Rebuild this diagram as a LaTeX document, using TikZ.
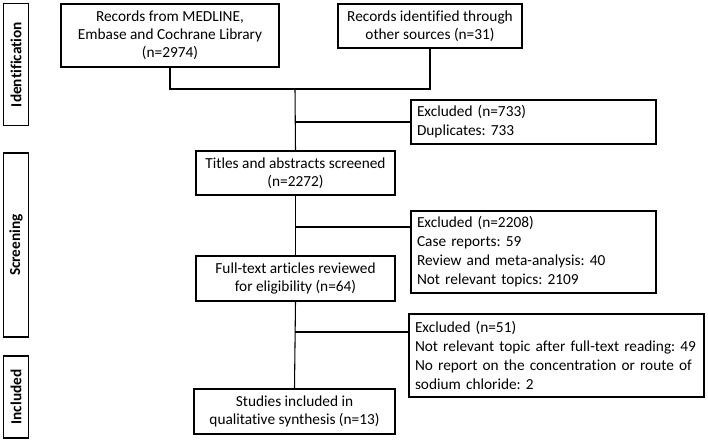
\documentclass[tikz,border=0pt]{standalone}
\usepackage{fontspec}
\setmainfont{Carlito}[Ligatures=CommonOff]
\frenchspacing
\begin{document}
\begin{tikzpicture}[x=0.75pt,y=-0.75pt,
  every node/.style={font=\fontsize{11.5}{13.6}\selectfont},
  box/.style={draw,line width=0.8pt,align=center,inner sep=2pt},
  exbox/.style={draw,line width=0.8pt,align=left,inner xsep=4.5pt,inner ysep=2pt,font=\fontsize{11.5}{14.2}\selectfont},
  side/.style={draw,line width=0.8pt,rotate=90,inner sep=0pt,minimum height=18.75pt,font=\bfseries\fontsize{11.5}{13}\selectfont},
  conn/.style={line width=0.8pt}]
\useasboundingbox (0,0) rectangle (708,443);
% side labels
\node[side,minimum width=91.5pt] (sid) at (16,64.5) {Identification};
\node[side,minimum width=138pt] (sscr) at (16,245) {Screening};
\node[side,minimum width=61.5pt] (sinc) at (16,397) {Included};
% main boxes
\node[box,minimum width=163.5pt,minimum height=47.25pt] (b1) at (170,35.5) {Records from MEDLINE,\\Embase and Cochrane Library\\(n=2974)};
\node[box,minimum width=138pt,minimum height=33pt] (b2) at (430,26) {Records identified through\\other sources (n=31)};
\node[box,minimum width=149.25pt,minimum height=33pt] (b3) at (295.5,173) {Titles and abstracts screened\\(n=2272)};
\node[box,minimum width=149.25pt,minimum height=33.75pt] (b4) at (295.5,278.5) {Full-text articles reviewed\\for eligibility (n=64)};
\node[box,minimum width=150.75pt,minimum height=33.75pt] (b5) at (294.5,411.5) {Studies included in\\qualitative synthesis (n=13)};
% excluded boxes
\node[exbox,text width=174.75pt,minimum height=33pt] (e1) at (533.5,122) {Excluded (n=733)\\Duplicates: 733};
\node[exbox,text width=174.75pt,minimum height=61.5pt] (e2) at (533.5,252) {Excluded (n=2208)\\Case reports: 59\\Review and meta-analysis: 40\\Not relevant topics: 2109};
\node[exbox,text width=212.25pt,minimum height=62.25pt] (e3) at (556.5,355.5) {Excluded (n=51)\\Not relevant topic after full-text reading: 49\\No report on the concentration or route of\\sodium chloride: 2};
% connectors
\coordinate (j1) at (295,89);
\coordinate (j2) at (295,227);
\coordinate (j3) at (295,332);
\draw[conn] (b1.south) |- (j1) -| (b2.south);
\draw[conn] (j1) -- (b3.north);
\draw[conn] (j1 |- e1.west) -- (e1.west);
\draw[conn] (b3.south) -- (b4.north);
\draw[conn] (j2) -- (j2 -| e2.west);
\draw[conn] (b4.south) -- (b5.north);
\draw[conn] (j3) -- (j3 -| e3.west);
\end{tikzpicture}
\end{document}
